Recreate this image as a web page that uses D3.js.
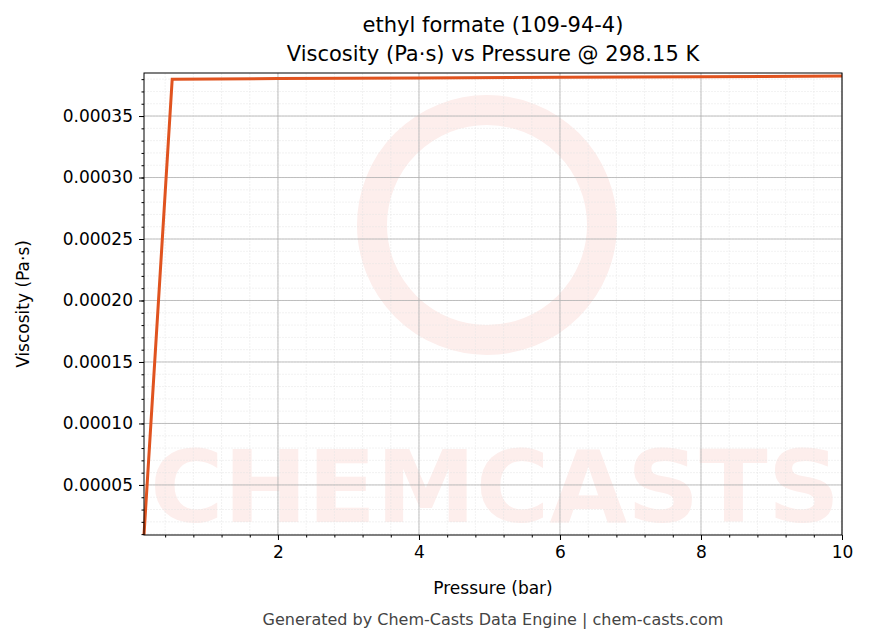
<!DOCTYPE html>
<html><head><meta charset="utf-8">
<script src="https://cdn.jsdelivr.net/npm/d3@7"></script>
<style>body{margin:0;background:#fff;font-family:"DejaVu Sans",sans-serif}</style>
</head><body>
<svg id="c" width="869" height="644"></svg>
<script>
// data
var pressure = [0.1, 0.5, 2, 4, 6, 8, 10];
var viscosity = [0.0000093, 0.000380, 0.0003805, 0.000381, 0.0003815, 0.000382, 0.0003825];
var xTicks = [2, 4, 6, 8, 10];
var yTicks = [0.00005, 0.0001, 0.00015, 0.0002, 0.00025, 0.0003, 0.00035];

var svg = d3.select('#c');
var L = 144, R = 842, T = 73, B = 535;
var x = d3.scaleLinear().domain([0.1, 10]).range([L, R]);
var y = d3.scaleLinear().domain([0.0000093, 0.000385]).range([B, T]);

// watermark
svg.append('text').attr('x', 150).attr('y', 522).attr('textLength', 690).attr('lengthAdjust', 'spacingAndGlyphs')
  .style('font-size', '100px').style('font-weight', 'bold').style('fill', '#fdeeec')
  .text('CHEMCASTS');
svg.append('circle').attr('cx', 487).attr('cy', 225).attr('r', 115)
  .style('fill', 'none').style('stroke', '#fdeeec').style('stroke-width', 30);

// minor grid
var xMinor = d3.range(0.4, 10.01, 0.4).filter(function(d){return d >= 0.1;});
var yMinor = d3.range(0.00001, 0.000385, 0.00001);
var g = svg.append('g');
g.selectAll('.vm').data(xMinor).enter().append('line')
  .attr('x1', d => x(d)).attr('x2', d => x(d)).attr('y1', T).attr('y2', B)
  .style('stroke', '#e4e4e4').style('stroke-width', 0.5).style('stroke-dasharray', '2,1');
g.selectAll('.hm').data(yMinor).enter().append('line')
  .attr('x1', L).attr('x2', R).attr('y1', d => y(d)).attr('y2', d => y(d))
  .style('stroke', '#e4e4e4').style('stroke-width', 0.5).style('stroke-dasharray', '2,1');
// major grid
g.selectAll('.vM').data(xTicks).enter().append('line')
  .attr('x1', d => x(d)).attr('x2', d => x(d)).attr('y1', T).attr('y2', B)
  .style('stroke', '#b0b0b0').style('stroke-width', 0.8);
g.selectAll('.hM').data(yTicks).enter().append('line')
  .attr('x1', L).attr('x2', R).attr('y1', d => y(d)).attr('y2', d => y(d))
  .style('stroke', '#b0b0b0').style('stroke-width', 0.8);

// line
svg.append('path').datum(pressure.map((p, i) => [p, viscosity[i]]))
  .attr('d', d3.line().x(d => x(d[0])).y(d => y(d[1])))
  .style('fill', 'none').style('stroke', '#e0531f').style('stroke-width', 3);

// frame
svg.append('rect').attr('x', L).attr('y', T).attr('width', R - L).attr('height', B - T)
  .style('fill', 'none').style('stroke', '#000').style('stroke-width', 1);

// axes
svg.append('g').attr('transform', 'translate(0,' + B + ')')
  .call(d3.axisBottom(x).tickValues(xTicks).tickFormat(d3.format('d')).tickSize(5).tickPadding(6));
svg.append('g').attr('transform', 'translate(0,' + B + ')')
  .call(d3.axisBottom(x).tickValues(xMinor).tickFormat('').tickSize(2.5));
svg.append('g').attr('transform', 'translate(' + L + ',0)')
  .call(d3.axisLeft(y).tickValues(yTicks).tickFormat(d3.format('.5f')).tickSize(5).tickPadding(6));
svg.append('g').attr('transform', 'translate(' + L + ',0)')
  .call(d3.axisLeft(y).tickValues(yMinor).tickFormat('').tickSize(2.5));
svg.selectAll('.domain').remove();
svg.selectAll('.tick text').style('font-size', '17px').style('fill', '#000').style('font-family', 'DejaVu Sans');

// labels
svg.append('text').attr('x', 493).attr('y', 594).attr('text-anchor', 'middle')
  .style('font-size', '17px').text('Pressure (bar)');
svg.append('text').attr('transform', 'translate(29,304) rotate(-90)').attr('text-anchor', 'middle')
  .style('font-size', '17px').text('Viscosity (Pa·s)');
svg.append('text').attr('x', 493).attr('y', 32).attr('text-anchor', 'middle')
  .style('font-size', '21px').text('ethyl formate (109-94-4)');
svg.append('text').attr('x', 493).attr('y', 61).attr('text-anchor', 'middle')
  .style('font-size', '21px').text('Viscosity (Pa·s) vs Pressure @ 298.15 K');
svg.append('text').attr('x', 493).attr('y', 625).attr('text-anchor', 'middle')
  .style('font-size', '16px').style('fill', '#444').text('Generated by Chem-Casts Data Engine | chem-casts.com');
</script>
</body></html>
